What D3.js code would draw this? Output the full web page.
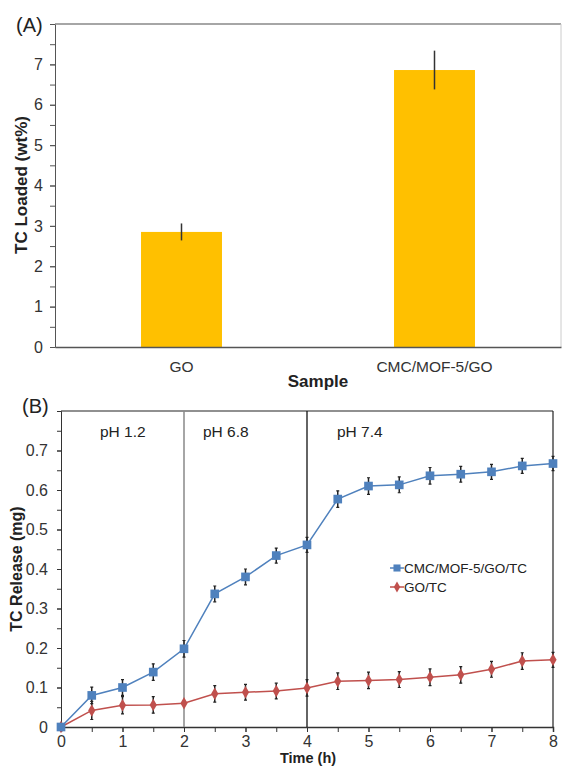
<!DOCTYPE html>
<html>
<head>
<meta charset="utf-8">
<script src="https://cdn.jsdelivr.net/npm/d3@7"></script>
<style>
  body { margin: 0; background: #fff; }
  svg text { font-family: "Liberation Sans", Arial, sans-serif; }
</style>
</head>
<body>
<div id="chart"></div>
<script>
// panel A data
const samples = ["GO", "CMC/MOF-5/GO"];
const loaded = [2.85, 6.86];
const loadedErr = [0.21, 0.48];
const loadTicks = [0, 1, 2, 3, 4, 5, 6, 7];

// panel B data
const hours = [0, 0.5, 1, 1.5, 2, 2.5, 3, 3.5, 4, 4.5, 5, 5.5, 6, 6.5, 7, 7.5, 8];
const releaseCMC = [0, 0.080, 0.100, 0.139, 0.198, 0.337, 0.380, 0.434, 0.461, 0.577, 0.610, 0.613, 0.636, 0.640, 0.646, 0.661, 0.667];
const errCMC = [0, 0.021, 0.020, 0.021, 0.021, 0.020, 0.020, 0.019, 0.019, 0.021, 0.021, 0.020, 0.021, 0.020, 0.019, 0.019, 0.018];
const releaseGO = [0, 0.042, 0.055, 0.056, 0.060, 0.084, 0.088, 0.091, 0.099, 0.116, 0.118, 0.120, 0.126, 0.132, 0.146, 0.167, 0.170];
const errGO = [0, 0.023, 0.022, 0.021, 0, 0.021, 0.020, 0.020, 0.021, 0.021, 0.021, 0.020, 0.021, 0.021, 0.020, 0.021, 0.019];
const releaseTicks = [0, 0.1, 0.2, 0.3, 0.4, 0.5, 0.6, 0.7];
const hourTicks = [0, 1, 2, 3, 4, 5, 6, 7, 8];
const phLabels = ["pH 1.2", "pH 6.8", "pH 7.4"];
const phStart = [0, 2, 4];
const seriesNames = ["CMC/MOF-5/GO/TC", "GO/TC"];

var svg = d3.select("#chart").append("svg")
  .attr("width", 562)
  .attr("height", 767);

// ---------- panel A ----------
var xA = d3.scaleBand().domain(samples).range([55, 561]).paddingInner(0.68).paddingOuter(0.34);
var yA = d3.scaleLinear().domain([0, 8]).range([347, 24]);

var gA = svg.append("g");

// minor ticks every 0.5
gA.append("g")
  .attr("transform", "translate(55,0)")
  .call(d3.axisLeft(yA).tickValues(d3.range(0, 8.01, 0.5)).tickSize(5).tickFormat(""))
  .call(g => g.select(".domain").remove())
  .selectAll("line").attr("stroke", "#555");

gA.append("g")
  .attr("transform", "translate(55,0)")
  .call(d3.axisLeft(yA).tickValues(loadTicks).tickSize(5).tickPadding(7))
  .call(g => g.select(".domain").attr("stroke", "#555"))
  .call(g => g.selectAll("line").attr("stroke", "#555"))
  .call(g => g.selectAll("text").attr("font-size", 16).attr("fill", "#333"));

// top and right borders
gA.append("line").attr("x1", 55).attr("x2", 561).attr("y1", yA(8)).attr("y2", yA(8)).attr("stroke", "#888").attr("stroke-width", 1.5);
gA.append("line").attr("x1", 561).attr("x2", 561).attr("y1", yA(8)).attr("y2", yA(0)).attr("stroke", "#ccc");

gA.selectAll(".bar")
  .data(samples)
  .enter().append("rect")
  .attr("x", d => xA(d))
  .attr("width", xA.bandwidth())
  .attr("y", (d, i) => yA(loaded[i]))
  .attr("height", (d, i) => yA(0) - yA(loaded[i]))
  .attr("fill", "#ffc000");

gA.selectAll(".err")
  .data(samples)
  .enter().append("line")
  .attr("x1", d => xA(d) + xA.bandwidth() / 2)
  .attr("x2", d => xA(d) + xA.bandwidth() / 2)
  .attr("y1", (d, i) => yA(loaded[i] + loadedErr[i]))
  .attr("y2", (d, i) => yA(loaded[i] - loadedErr[i]))
  .attr("stroke", "#333")
  .attr("stroke-width", 1.5);

gA.append("g")
  .attr("transform", "translate(0," + yA(0) + ")")
  .call(d3.axisBottom(xA).tickSize(0).tickPadding(14))
  .call(g => g.select(".domain").attr("stroke", "#555").attr("stroke-width", 1.5))
  .call(g => g.selectAll("text").attr("font-size", 15.5).attr("fill", "#333"));

gA.append("text")
  .attr("x", 318).attr("y", 387)
  .attr("text-anchor", "middle").attr("font-size", 17).attr("font-weight", "bold").attr("fill", "#222")
  .text("Sample");

gA.append("text")
  .attr("transform", "translate(27,185) rotate(-90)")
  .attr("text-anchor", "middle").attr("font-size", 17).attr("font-weight", "bold").attr("fill", "#222")
  .text("TC Loaded (wt%)");

gA.append("text")
  .attr("x", 16).attr("y", 32)
  .attr("font-size", 20).attr("fill", "#222")
  .text("(A)");

// ---------- panel B ----------
var xB = d3.scaleLinear().domain([0, 8]).range([61, 553]);
var yB = d3.scaleLinear().domain([0, 0.8]).range([727, 411]);

var gB = svg.append("g");

gB.append("g")
  .attr("transform", "translate(61,0)")
  .call(d3.axisLeft(yB).tickValues(d3.range(0, 0.801, 0.05)).tickSize(4).tickFormat(""))
  .call(g => g.select(".domain").remove())
  .selectAll("line").attr("stroke", "#333");

gB.append("g")
  .attr("transform", "translate(61,0)")
  .call(d3.axisLeft(yB).tickValues(releaseTicks).tickSize(4).tickPadding(9).tickFormat(d => d === 0 ? "0" : d3.format(".1f")(d)))
  .call(g => g.select(".domain").attr("stroke", "#333"))
  .call(g => g.selectAll("line").attr("stroke", "#333"))
  .call(g => g.selectAll("text").attr("font-size", 16).attr("fill", "#333"));

gB.append("g")
  .attr("transform", "translate(0,727)")
  .call(d3.axisBottom(xB).tickValues(d3.range(0, 8.01, 0.5)).tickSize(5).tickFormat(""))
  .call(g => g.select(".domain").remove())
  .selectAll("line").attr("stroke", "#333");

gB.append("g")
  .attr("transform", "translate(0,727)")
  .call(d3.axisBottom(xB).tickValues(hourTicks).tickSize(5).tickPadding(4))
  .call(g => g.select(".domain").attr("stroke", "#333").attr("stroke-width", 1.5))
  .call(g => g.selectAll("line").attr("stroke", "#333"))
  .call(g => g.selectAll("text").attr("font-size", 16).attr("fill", "#333"));

// frame
gB.append("line").attr("x1", 61).attr("x2", 553).attr("y1", 411).attr("y2", 411).attr("stroke", "#222").attr("stroke-width", 1.2);
gB.append("line").attr("x1", 553).attr("x2", 553).attr("y1", 411).attr("y2", 727).attr("stroke", "#222").attr("stroke-width", 1.2);

// pH dividers
gB.append("line").attr("x1", xB(2)).attr("x2", xB(2)).attr("y1", 411).attr("y2", 727).attr("stroke", "#888").attr("stroke-width", 1.5);
gB.append("line").attr("x1", xB(4)).attr("x2", xB(4)).attr("y1", 411).attr("y2", 727).attr("stroke", "#111").attr("stroke-width", 1.3);

gB.selectAll(".ph")
  .data(phLabels)
  .enter().append("text")
  .attr("x", (d, i) => xB(phStart[i]) + [39, 19, 30][i])
  .attr("y", 437)
  .attr("font-size", 15.5).attr("fill", "#222")
  .text(d => d);

function drawSeries(vals, errs, color, shape) {
  var pts = hours.map((h, i) => ({ h: h, v: vals[i], e: errs[i] }));
  gB.append("g").selectAll("line")
    .data(pts.filter(p => p.e > 0))
    .enter().append("line")
    .attr("x1", p => xB(p.h)).attr("x2", p => xB(p.h))
    .attr("y1", p => yB(p.v + p.e)).attr("y2", p => yB(p.v - p.e))
    .attr("stroke", "#222").attr("stroke-width", 1.5);
  gB.append("g").selectAll("path")
    .data(pts.filter(p => p.e > 0))
    .enter().append("path")
    .attr("d", p => "M" + (xB(p.h) - 1.5) + "," + yB(p.v + p.e) + "h3M" + (xB(p.h) - 1.5) + "," + yB(p.v - p.e) + "h3")
    .attr("stroke", "#222").attr("stroke-width", 1.2);
  gB.append("path")
    .datum(pts)
    .attr("fill", "none").attr("stroke", color).attr("stroke-width", 1.5)
    .attr("d", d3.line().x(p => xB(p.h)).y(p => yB(p.v)));
  gB.append("g").selectAll("path")
    .data(pts)
    .enter().append("path")
    .attr("transform", p => "translate(" + xB(p.h) + "," + yB(p.v) + ")")
    .attr("d", d3.symbol().type(shape).size(shape === d3.symbolSquare ? 75 : 45))
    .attr("fill", color);
}

drawSeries(releaseGO, errGO, "#c0504d", d3.symbolDiamond);
drawSeries(releaseCMC, errCMC, "#4f81bd", d3.symbolSquare);

// legend
var legendColors = ["#4f81bd", "#c0504d"];
var legendShapes = [d3.symbolSquare, d3.symbolDiamond];
var lg = gB.selectAll(".legend")
  .data(seriesNames)
  .enter().append("g")
  .attr("transform", (d, i) => "translate(397," + (568 + i * 19) + ")");
lg.append("line").attr("x1", -7).attr("x2", 7).attr("stroke", (d, i) => legendColors[i]).attr("stroke-width", 1.5);
lg.append("path")
  .attr("d", (d, i) => d3.symbol().type(legendShapes[i]).size(i === 0 ? 50 : 35)())
  .attr("fill", (d, i) => legendColors[i]);
lg.append("text")
  .attr("x", 7).attr("y", 5)
  .attr("font-size", 13.5).attr("fill", "#222")
  .text(d => d);

gB.append("text")
  .attr("x", 308).attr("y", 763)
  .attr("text-anchor", "middle").attr("font-size", 14.5).attr("font-weight", "bold").attr("fill", "#222")
  .text("Time (h)");

gB.append("text")
  .attr("transform", "translate(22,569) rotate(-90)")
  .attr("text-anchor", "middle").attr("font-size", 16).attr("font-weight", "bold").attr("fill", "#222")
  .text("TC Release (mg)");

gB.append("text")
  .attr("x", 22).attr("y", 413)
  .attr("font-size", 20).attr("fill", "#222")
  .text("(B)");
</script>
</body>
</html>
